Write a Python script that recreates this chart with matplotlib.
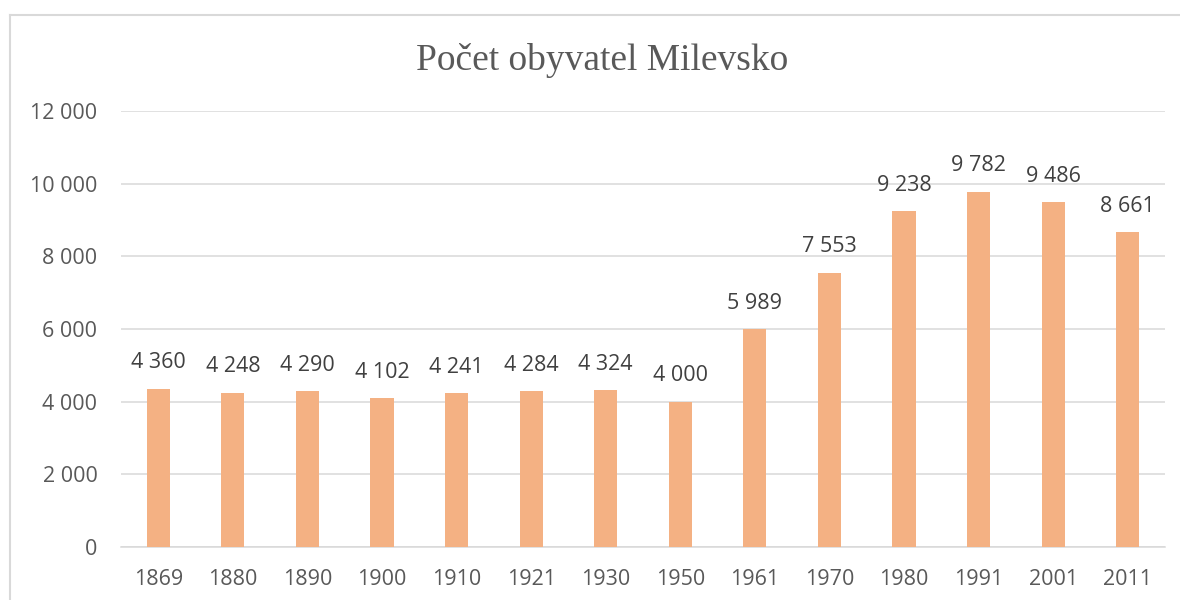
import matplotlib.pyplot as plt
from matplotlib.lines import Line2D

years = ["1869", "1880", "1890", "1900", "1910", "1921", "1930",
         "1950", "1961", "1970", "1980", "1991", "2001", "2011"]
population = [4360, 4248, 4290, 4102, 4241, 4284, 4324,
              4000, 5989, 7553, 9238, 9782, 9486, 8661]
y_ticks = [0, 2000, 4000, 6000, 8000, 10000, 12000]


def fmt(v):
    # czech style thousands separator
    return f"{v:,}".replace(",", " ")


def main():
    plt.rcParams['font.family'] = ['Open Sans', 'DejaVu Sans']

    fig = plt.figure(figsize=(11.8, 6), dpi=100)
    ax = fig.add_axes([121 / 1180, 1 - 547 / 600, (1165 - 121) / 1180, (547 - 111) / 600])

    x = list(range(len(years)))
    ax.bar(x, population, width=0.31, color="#F4B183", zorder=3)

    for xi, v in zip(x, population):
        ax.annotate(fmt(v), (xi, v), xytext=(0, 11), textcoords="offset points",
                    ha="center", va="bottom", fontsize=15.5, color="#404040")

    ax.set_xlim(-0.5, len(years) - 0.5)
    ax.set_ylim(0, 12000)
    ax.set_yticks(y_ticks)
    ax.set_yticklabels([fmt(t) for t in y_ticks])
    ax.set_xticks(x)
    ax.set_xticklabels(years)
    ax.tick_params(axis="both", length=0, labelsize=15.5, labelcolor="#595959")
    ax.tick_params(axis="y", pad=17)
    ax.tick_params(axis="x", pad=16)

    ax.grid(axis="y", color="#D9D9D9", linewidth=1.1, zorder=0)
    for s in ["top", "right", "left"]:
        ax.spines[s].set_visible(False)
    ax.spines["bottom"].set_color("#D9D9D9")
    ax.spines["bottom"].set_linewidth(1.1)

    fig.text(602 / 1180, 1 - 60 / 600, "Počet obyvatel Milevsko", ha="center", va="center",
             fontsize=27, color="#595959", family="Liberation Serif")

    # chart frame (cropped at right and bottom)
    fig.add_artist(Line2D([10 / 1180, 10 / 1180], [0, 1 - 15 / 600], color="#D9D9D9", lw=1.5))
    fig.add_artist(Line2D([10 / 1180, 1], [1 - 15 / 600, 1 - 15 / 600], color="#D9D9D9", lw=1.5))

    fig.savefig("out.png", dpi=100)


if __name__ == "__main__":
    main()
